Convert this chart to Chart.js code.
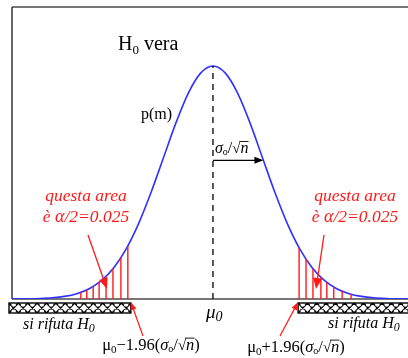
<!DOCTYPE html>
<html>
<head>
<meta charset="utf-8">
<script src="https://cdn.jsdelivr.net/npm/chart.js@4/dist/chart.umd.min.js"></script>
<style>
  body { margin: 0; background: #fff; }
  canvas { display: block; }
</style>
</head>
<body>
<canvas id="chart" width="408" height="358"></canvas>
<script>
// curve p(m), x in units of sigma/sqrt(n) around mu0, y relative to the peak
const zCurve = [-4.06, -3.75, -3.5, -3.25, -3, -2.75, -2.5, -2.25, -2, -1.75, -1.5, -1.25, -1, -0.75, -0.5, -0.25,
  0, 0.25, 0.5, 0.75, 1, 1.25, 1.5, 1.75, 2, 2.25, 2.5, 2.75, 3, 3.25, 3.5, 3.75, 3.94];
const pCurve = [0.0003, 0.0009, 0.0022, 0.0051, 0.0111, 0.0228, 0.0439, 0.0796, 0.1353, 0.2163, 0.3247, 0.4578, 0.6065, 0.7548, 0.8825, 0.9692,
  1, 0.9692, 0.8825, 0.7548, 0.6065, 0.4578, 0.3247, 0.2163, 0.1353, 0.0796, 0.0439, 0.0228, 0.0111, 0.0051, 0.0022, 0.0009, 0.0004];

// red lines under the two tails
const zHatchL = [-2.67, -2.55, -2.42, -2.30, -2.16, -2.02, -1.86, -1.72];
const pHatchL = [0.028, 0.039, 0.053, 0.071, 0.097, 0.130, 0.177, 0.228];
const zHatchR = [1.74, 1.88, 2.02, 2.18, 2.30, 2.44, 2.61, 2.79];
const pHatchR = [0.220, 0.171, 0.130, 0.093, 0.071, 0.051, 0.033, 0.022];

// critical values (mu0 -/+ 1.96 sigma/sqrt(n)) and the sigma step
const zCrit = [-1.70, 1.72];
const zSigma = 1.02;

const BLUE = '#3030ff';
const RED = '#ff1a1a';
const SERIF = '"Liberation Serif", "DejaVu Serif", serif';

function hatchData(zs, ps) {
  const out = [];
  zs.forEach((z, i) => {
    out.push({ x: z, y: 0 }, { x: z, y: ps[i] }, { x: z, y: null });
  });
  return out;
}

function arrow(ctx, x0, y0, x1, y1, color, len, half, lw) {
  const a = Math.atan2(y1 - y0, x1 - x0);
  ctx.save();
  ctx.strokeStyle = color;
  ctx.fillStyle = color;
  ctx.lineWidth = lw;
  ctx.beginPath();
  ctx.moveTo(x0, y0);
  ctx.lineTo(x1 - Math.cos(a) * len * 0.8, y1 - Math.sin(a) * len * 0.8);
  ctx.stroke();
  ctx.beginPath();
  ctx.moveTo(x1, y1);
  ctx.lineTo(x1 - Math.cos(a) * len - Math.sin(a) * half, y1 - Math.sin(a) * len + Math.cos(a) * half);
  ctx.lineTo(x1 - Math.cos(a) * len + Math.sin(a) * half, y1 - Math.sin(a) * len - Math.cos(a) * half);
  ctx.closePath();
  ctx.fill();
  ctx.restore();
}

// parts: {t, size, it, dy, over}
function rich(ctx, x, y, parts, color, align) {
  ctx.save();
  ctx.fillStyle = color;
  ctx.strokeStyle = color;
  ctx.textBaseline = 'alphabetic';
  ctx.textAlign = 'left';
  let w = 0;
  parts.forEach(p => {
    ctx.font = (p.it ? 'italic ' : '') + p.size + 'px ' + SERIF;
    p.w = ctx.measureText(p.t).width;
    w += p.w;
  });
  let cx = align === 'center' ? x - w / 2 : x;
  parts.forEach(p => {
    ctx.font = (p.it ? 'italic ' : '') + p.size + 'px ' + SERIF;
    ctx.fillText(p.t, cx, y + (p.dy || 0));
    if (p.over) {
      ctx.lineWidth = 0.9;
      ctx.beginPath();
      ctx.moveTo(cx - 1, y - p.size * 0.72);
      ctx.lineTo(cx + p.w, y - p.size * 0.72);
      ctx.stroke();
    }
    cx += p.w;
  });
  ctx.restore();
}

function hatchBar(ctx, x0, x1, y0, y1) {
  const h = y1 - y0;
  const n = Math.round((x1 - x0) / 9.3);
  const p = (x1 - x0) / n;
  ctx.save();
  ctx.fillStyle = '#fff';
  ctx.fillRect(x0, y0, x1 - x0, h);
  ctx.beginPath();
  ctx.rect(x0, y0, x1 - x0, h);
  ctx.clip();
  ctx.strokeStyle = '#000';
  ctx.lineWidth = 1.6;
  ctx.beginPath();
  for (let i = 0; i < n; i++) {
    const a = x0 + i * p;
    ctx.moveTo(a, y0);
    ctx.lineTo(a + p, y1);
    ctx.moveTo(a + p, y0);
    ctx.lineTo(a, y1);
  }
  ctx.stroke();
  ctx.fillStyle = '#fff';
  for (let i = 0; i < n; i++) {
    const a = x0 + i * p + p / 2;
    ctx.beginPath();
    ctx.ellipse(a, y0 + 2.2, 2.2, 1.3, 0, 0, Math.PI * 2);
    ctx.ellipse(a, y1 - 2.2, 2.2, 1.3, 0, 0, Math.PI * 2);
    ctx.fill();
  }
  ctx.restore();
  ctx.save();
  ctx.strokeStyle = '#000';
  ctx.lineWidth = 1.4;
  ctx.strokeRect(x0, y0, x1 - x0, h);
  ctx.restore();
}

const framePlugin = {
  id: 'frame',
  beforeDatasetsDraw(chart) {
    const { ctx, chartArea: a } = chart;
    ctx.save();
    ctx.strokeStyle = '#777';
    ctx.lineWidth = 2;
    ctx.beginPath();
    ctx.moveTo(a.left, a.top);
    ctx.lineTo(a.right, a.top);
    ctx.moveTo(a.left, a.bottom);
    ctx.lineTo(a.right, a.bottom);
    ctx.stroke();
    ctx.strokeStyle = '#000';
    ctx.lineWidth = 1.2;
    ctx.beginPath();
    ctx.moveTo(a.left, a.top);
    ctx.lineTo(a.left, a.bottom);
    ctx.stroke();
    ctx.restore();
  },
  afterDatasetsDraw(chart) {
    const { ctx, chartArea: a } = chart;
    const xs = chart.scales.x, ys = chart.scales.y;
    const xL = xs.getPixelForValue(zCrit[0]);
    const xR = xs.getPixelForValue(zCrit[1]);
    const x0 = xs.getPixelForValue(0);
    const base = a.bottom;

    // rejection regions
    hatchBar(ctx, a.left - 3, xL + 2, base + 4, base + 14);
    hatchBar(ctx, xR, a.right + 2, base + 4, base + 14);

    // sigma step arrow
    const ySig = ys.getPixelForValue(0.595);
    arrow(ctx, x0, ySig, xs.getPixelForValue(zSigma), ySig, '#000', 9, 3.5, 1.2);
    rich(ctx, x0 + 2, 153, [
      { t: 'σ', size: 16, it: true },
      { t: 'o', size: 10, dy: 2 },
      { t: '/', size: 16 },
      { t: '√', size: 15 },
      { t: 'n', size: 16, it: true, over: true }
    ], '#000');

    // titles
    rich(ctx, 118, 50, [
      { t: 'H', size: 20 },
      { t: '0', size: 13, dy: 4 },
      { t: ' vera', size: 20 }
    ], '#000');
    rich(ctx, 141, 119, [{ t: 'p(m)', size: 16 }], '#000');

    // red notes
    [86, 355].forEach(cx => {
      rich(ctx, cx, 201, [{ t: 'questa area', size: 17.5, it: true }], RED, 'center');
      rich(ctx, cx, 222, [
        { t: 'è ', size: 17.5, it: true },
        { t: 'α', size: 18, it: true },
        { t: '/2=0.025', size: 17.5, it: true }
      ], RED, 'center');
    });
    arrow(ctx, 88, 235, 107, 289, RED, 11, 4.5, 1.3);
    arrow(ctx, 324, 235, 316, 289, RED, 11, 4.5, 1.3);

    // bottom labels
    rich(ctx, 23, 329, [
      { t: 'si rifuta ', size: 16, it: true },
      { t: 'H', size: 16, it: true },
      { t: '0', size: 12, it: true, dy: 3 }
    ], '#000');
    rich(ctx, 328, 328, [
      { t: 'si rifuta ', size: 16, it: true },
      { t: 'H', size: 16, it: true },
      { t: '0', size: 12, it: true, dy: 3 }
    ], '#000');
    rich(ctx, 206, 318, [
      { t: 'μ', size: 19, it: true },
      { t: '0', size: 14, it: true, dy: 3 }
    ], '#000');

    const formula = sign => [
      { t: 'μ', size: 16.5 },
      { t: '0', size: 11, dy: 3 },
      { t: sign + '1.96(', size: 16.5 },
      { t: 'σ', size: 16.5, it: true },
      { t: 'o', size: 10, dy: 2 },
      { t: '/', size: 16.5 },
      { t: '√', size: 15 },
      { t: 'n', size: 16.5, it: true, over: true },
      { t: ')', size: 16.5 }
    ];
    rich(ctx, 151, 350, formula('−'), '#000', 'center');
    rich(ctx, 296, 352, formula('+'), '#000', 'center');
    arrow(ctx, 143, 336, xL + 2, base + 3, RED, 8, 3, 1.2);
    arrow(ctx, 280, 336, xR, base + 3, RED, 8, 3, 1.2);
  }
};

new Chart(document.getElementById('chart'), {
  type: 'scatter',
  data: {
    datasets: [
      {
        label: 'tail L',
        data: hatchData(zHatchL, pHatchL),
        showLine: true,
        spanGaps: false,
        borderColor: RED,
        borderWidth: 1.4,
        pointRadius: 0,
        tension: 0
      },
      {
        label: 'tail R',
        data: hatchData(zHatchR, pHatchR),
        showLine: true,
        spanGaps: false,
        borderColor: RED,
        borderWidth: 1.4,
        pointRadius: 0,
        tension: 0
      },
      {
        label: 'mu0',
        data: [{ x: 0, y: 0 }, { x: 0, y: 1 }],
        showLine: true,
        borderColor: '#000',
        borderWidth: 1.3,
        borderDash: [6, 5],
        pointRadius: 0
      },
      {
        label: 'p(m)',
        data: zCurve.map((z, i) => ({ x: z, y: pCurve[i] })),
        showLine: true,
        borderColor: BLUE,
        borderWidth: 1.6,
        pointRadius: 0,
        tension: 0.4,
        cubicInterpolationMode: 'monotone'
      }
    ]
  },
  options: {
    responsive: false,
    animation: false,
    layout: { padding: { left: 12, top: 7, right: 0, bottom: 59 } },
    plugins: { legend: { display: false }, tooltip: { enabled: false } },
    scales: {
      x: { type: 'linear', min: -4.06, max: 3.94, display: false },
      y: { type: 'linear', min: 0, max: 1.253, display: false }
    }
  },
  plugins: [framePlugin]
});
</script>
</body>
</html>
